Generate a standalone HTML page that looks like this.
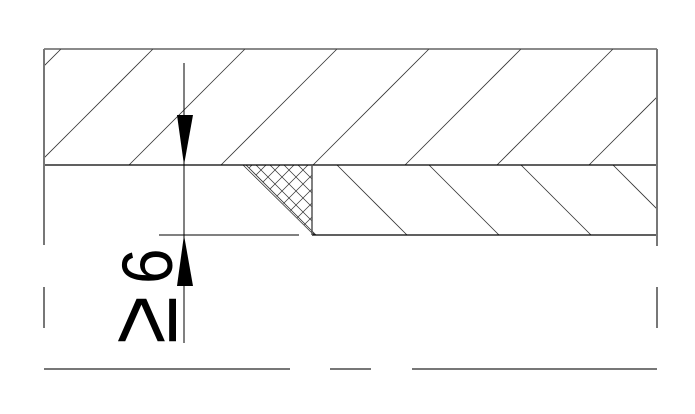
<!DOCTYPE html>
<html><head><style>html,body{margin:0;padding:0;background:#fff;}svg{display:block}</style></head>
<body>
<svg width="695" height="414" viewBox="0 0 695 414" xmlns="http://www.w3.org/2000/svg">
<defs>
<clipPath id="up"><rect x="44" y="49" width="613" height="116"/></clipPath>
<clipPath id="lo"><rect x="313" y="165" width="344" height="70"/></clipPath>
<clipPath id="weld"><polygon points="246,165 312,165 312,233"/></clipPath>
</defs>
<g stroke="#333" stroke-width="0.8" fill="none">
<g clip-path="url(#up)">
<line x1="37" y1="165" x2="153" y2="49"/>
<line x1="129" y1="165" x2="245" y2="49"/>
<line x1="221" y1="165" x2="337" y2="49"/>
<line x1="313" y1="165" x2="429" y2="49"/>
<line x1="405" y1="165" x2="521" y2="49"/>
<line x1="497" y1="165" x2="613" y2="49"/>
<line x1="589" y1="165" x2="705" y2="49"/>
<line x1="-55" y1="165" x2="61" y2="49"/>
</g>
<g clip-path="url(#lo)">
<line x1="245" y1="165" x2="315" y2="235"/>
<line x1="337" y1="165" x2="407" y2="235"/>
<line x1="429" y1="165" x2="499" y2="235"/>
<line x1="521" y1="165" x2="591" y2="235"/>
<line x1="613" y1="165" x2="683" y2="235"/>
</g>
<g clip-path="url(#weld)" stroke-width="0.7">
<line x1="200" y1="165" x2="300" y2="265"/><line x1="214" y1="165" x2="314" y2="265"/><line x1="228" y1="165" x2="328" y2="265"/><line x1="242" y1="165" x2="342" y2="265"/><line x1="256" y1="165" x2="356" y2="265"/><line x1="270" y1="165" x2="370" y2="265"/><line x1="284" y1="165" x2="384" y2="265"/><line x1="298" y1="165" x2="398" y2="265"/><line x1="312" y1="165" x2="412" y2="265"/>
<line x1="252" y1="165" x2="152" y2="265"/><line x1="266" y1="165" x2="166" y2="265"/><line x1="280" y1="165" x2="180" y2="265"/><line x1="294" y1="165" x2="194" y2="265"/><line x1="308" y1="165" x2="208" y2="265"/><line x1="322" y1="165" x2="222" y2="265"/><line x1="336" y1="165" x2="236" y2="265"/><line x1="350" y1="165" x2="250" y2="265"/><line x1="364" y1="165" x2="264" y2="265"/><line x1="378" y1="165" x2="278" y2="265"/><line x1="392" y1="165" x2="292" y2="265"/>
</g>
<line x1="243" y1="165" x2="314" y2="235"/>
<line x1="246" y1="165" x2="316" y2="235"/>
</g>
<g stroke="#000" stroke-width="1.2" fill="none">
<line x1="44" y1="49" x2="657" y2="49" stroke="#444"/>
<line x1="44" y1="165" x2="657" y2="165"/>
<line x1="312" y1="235" x2="657" y2="235"/>
<line x1="312" y1="165" x2="312" y2="235" stroke="#555" stroke-width="1.5"/>
<line x1="159" y1="235" x2="299" y2="235" stroke-width="1"/>
<line x1="184" y1="63" x2="184" y2="343" stroke-width="1"/>
</g>
<g stroke="#777" stroke-width="2" fill="none">
<line x1="44" y1="49" x2="44" y2="245"/>
<line x1="44" y1="287" x2="44" y2="328"/>
<line x1="657" y1="49" x2="657" y2="246"/>
<line x1="657" y1="287" x2="657" y2="328"/>
<line x1="44" y1="369" x2="290" y2="369"/>
<line x1="330" y1="369" x2="371" y2="369"/>
<line x1="412" y1="369" x2="657" y2="369"/>
</g>
<polygon points="177,115 193,115 184,165" fill="#000"/>
<polygon points="177,286 193,286 184,235" fill="#000"/>
<text transform="translate(172,284) rotate(-90) scale(0.9,1)" x="0" y="0" font-family="Liberation Sans, sans-serif" font-size="71">6</text>
<text transform="translate(176,344) rotate(-90) scale(0.95,1.05)" x="0" y="0" font-family="Liberation Sans, sans-serif" font-size="92">≥</text>
</svg>
</body></html>
